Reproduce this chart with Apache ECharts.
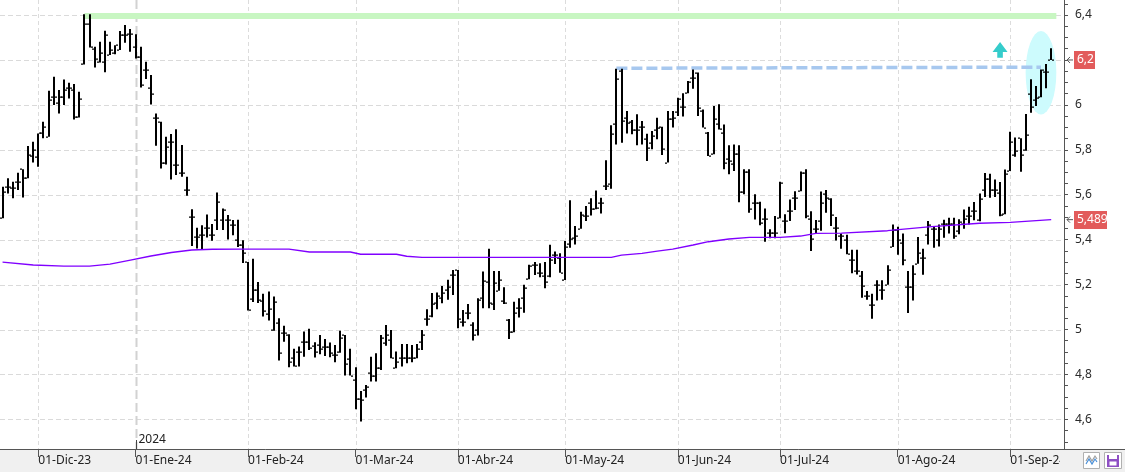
<!DOCTYPE html>
<html><head><meta charset="utf-8">
<script src="https://cdn.jsdelivr.net/npm/echarts@6/dist/echarts.min.js"></script>
<style>
html,body{margin:0;padding:0;background:#fff}
#c{width:1125px;height:472px;background:linear-gradient(#ffffff 0,#ffffff 449px,#f0f0f0 449px,#f0f0f0 472px)}
</style>
</head><body><div id="c"></div>
<script>
// ---------- DATA ----------
var startDate = '2023-11-22';
var holidays = ['2023-12-25','2023-12-26','2024-01-01','2024-03-29','2024-04-01','2024-05-01'];
var monthAbbr = ['Ene','Feb','Mar','Abr','May','Jun','Jul','Ago','Sep','Oct','Nov','Dic'];

var openP = [5.495,5.633,5.628,5.658,5.714,5.673,5.772,5.77,5.873,5.858,
6.036,6.007,6.036,6.073,6.066,5.947,6.18,6.36,6.25,6.189,
6.189,6.222,6.229,6.244,6.311,6.314,6.259,6.215,6.155,6.077,
5.94,5.925,5.74,5.836,5.732,5.698,5.621,5.5,5.41,5.42,
5.45,5.42,5.487,5.487,5.487,5.465,5.40,5.375,5.30,5.137,
5.174,5.129,5.070,4.998,5.028,4.986,4.976,4.872,4.902,4.946,
4.946,4.927,4.931,4.921,4.921,4.887,4.902,4.976,4.868,4.776,
4.689,4.731,4.805,4.793,4.827,4.942,4.954,4.827,4.872,4.872,
4.872,4.872,4.946,5.046,5.058,5.117,5.139,5.176,5.243,5.265,
5.035,5.072,5.020,4.998,5.139,5.211,5.114,5.173,5.129,5.043,
4.991,5.095,5.139,5.224,5.288,5.251,5.239,5.236,5.332,5.320,
5.220,5.379,5.409,5.449,5.505,5.565,5.535,5.565,5.639,5.649,
5.916,6.151,5.943,5.924,5.888,5.903,5.847,5.832,5.888,5.903,
5.743,5.939,5.968,5.992,6.054,6.121,6.144,5.973,5.876,5.780,
5.913,5.876,5.758,5.735,5.780,5.612,5.700,5.565,5.565,5.490,
5.428,5.431,5.498,5.483,5.527,5.587,5.616,5.698,5.490,5.446,
5.483,5.602,5.579,5.453,5.415,5.397,5.308,5.260,5.236,5.149,
5.110,5.196,5.177,5.199,5.367,5.442,5.385,5.189,5.189,5.293,
5.318,5.419,5.449,5.400,5.468,5.468,5.468,5.439,5.468,5.504,
5.526,5.489,5.620,5.668,5.620,5.608,5.513,5.706,5.776,5.851,
5.799,6.048,6.020,6.036,6.148,6.200];
var highP = [5.636,5.673,5.658,5.698,5.714,5.817,5.836,5.873,5.925,6.063,
6.125,6.066,6.113,6.099,6.093,6.059,6.404,6.404,6.259,6.281,
6.33,6.281,6.266,6.329,6.356,6.338,6.314,6.259,6.192,6.133,
5.962,5.925,5.858,5.87,5.892,5.821,5.68,5.535,5.453,5.464,
5.512,5.47,5.61,5.539,5.51,5.487,5.489,5.397,5.30,5.315,
5.211,5.159,5.169,5.147,5.050,5.017,4.979,4.914,4.924,4.991,
5.003,4.943,4.976,4.958,4.942,4.931,4.994,4.976,4.914,4.832,
4.726,4.753,4.879,4.894,4.976,5.020,4.998,4.902,4.936,4.936,
4.931,4.936,4.998,5.090,5.162,5.165,5.194,5.221,5.265,5.265,
5.087,5.114,5.032,5.139,5.258,5.359,5.261,5.261,5.188,5.047,
5.124,5.139,5.199,5.288,5.300,5.295,5.300,5.377,5.347,5.339,
5.394,5.575,5.461,5.524,5.550,5.584,5.619,5.587,5.753,5.909,
6.161,6.161,5.973,5.933,5.958,5.928,5.872,5.884,5.943,5.903,
5.973,5.973,6.032,6.052,6.106,6.158,6.144,5.980,5.879,5.995,
6.003,5.913,5.820,5.824,5.820,5.713,5.713,5.602,5.569,5.539,
5.446,5.505,5.658,5.513,5.579,5.616,5.703,5.713,5.527,5.487,
5.614,5.621,5.584,5.501,5.427,5.422,5.355,5.355,5.260,5.171,
5.159,5.219,5.219,5.286,5.468,5.457,5.427,5.260,5.286,5.412,
5.360,5.483,5.461,5.468,5.489,5.498,5.498,5.491,5.534,5.546,
5.568,5.605,5.697,5.694,5.668,5.657,5.712,5.880,5.855,5.851,
5.959,6.114,6.084,6.158,6.182,6.252];
var lowP = [5.495,5.606,5.584,5.621,5.588,5.673,5.743,5.725,5.851,5.858,
5.999,5.962,5.999,6.029,5.935,5.944,6.18,6.256,6.167,6.189,
6.145,6.222,6.226,6.244,6.277,6.237,6.207,6.077,6.115,6.002,
5.818,5.717,5.735,5.668,5.688,5.68,5.596,5.372,5.361,5.354,
5.41,5.395,5.443,5.443,5.401,5.42,5.367,5.296,5.085,5.122,
5.118,5.058,5.040,4.995,4.862,4.946,4.832,4.835,4.835,4.879,
4.909,4.875,4.890,4.882,4.876,4.854,4.897,4.795,4.795,4.645,
4.590,4.697,4.768,4.768,4.820,4.928,4.872,4.827,4.835,4.850,
4.854,4.872,4.909,5.017,5.055,5.090,5.117,5.132,5.154,5.006,
5.013,5.046,4.951,4.973,5.095,5.095,5.087,5.173,5.114,4.958,
4.988,5.053,5.075,5.224,5.243,5.233,5.184,5.233,5.292,5.253,
5.220,5.364,5.379,5.449,5.483,5.508,5.535,5.516,5.621,5.627,
5.824,5.832,5.873,5.869,5.820,5.824,5.750,5.802,5.847,5.777,
5.743,5.899,5.951,5.948,6.052,6.072,5.951,5.899,5.772,5.780,
5.891,5.713,5.691,5.706,5.567,5.602,5.520,5.490,5.464,5.391,
5.406,5.406,5.495,5.428,5.483,5.532,5.616,5.495,5.349,5.426,
5.44,5.52,5.461,5.396,5.360,5.335,5.251,5.245,5.141,5.132,
5.048,5.129,5.132,5.199,5.367,5.333,5.286,5.074,5.129,5.293,
5.244,5.379,5.364,5.370,5.409,5.427,5.404,5.424,5.449,5.468,
5.486,5.482,5.590,5.587,5.590,5.504,5.513,5.706,5.769,5.702,
5.796,5.965,5.995,6.034,6.074,6.200];
var closeP = [5.61,5.633,5.628,5.658,5.673,5.777,5.80,5.873,5.903,6.021,
6.036,6.036,6.066,6.073,5.947,6.025,6.36,6.256,6.203,6.233,
6.311,6.244,6.266,6.311,6.311,6.314,6.215,6.089,6.155,6.047,
5.94,5.74,5.814,5.836,5.732,5.698,5.621,5.5,5.41,5.42,
5.45,5.42,5.569,5.532,5.487,5.465,5.375,5.34,5.088,5.174,
5.133,5.084,5.090,5.124,4.894,4.986,4.854,4.838,4.902,4.946,
4.917,4.902,4.912,4.921,4.897,4.887,4.961,4.847,4.795,4.689,
4.686,4.746,4.793,4.827,4.961,4.976,4.872,4.854,4.872,4.872,
4.872,4.912,4.976,5.046,5.114,5.147,5.162,5.191,5.243,5.046,
5.035,5.072,4.976,5.132,5.218,5.120,5.206,5.221,5.120,4.991,
5.072,5.095,5.184,5.283,5.288,5.251,5.213,5.310,5.332,5.253,
5.369,5.404,5.416,5.510,5.505,5.535,5.539,5.565,5.639,5.872,
6.117,5.928,5.921,5.888,5.888,5.903,5.810,5.861,5.899,5.802,
5.939,5.943,6.025,5.992,6.102,6.121,5.988,5.899,5.772,5.936,
5.891,5.743,5.750,5.780,5.612,5.700,5.535,5.565,5.476,5.490,
5.428,5.431,5.651,5.483,5.527,5.587,5.698,5.505,5.404,5.446,
5.565,5.587,5.510,5.453,5.415,5.335,5.308,5.260,5.192,5.149,
5.110,5.196,5.177,5.266,5.445,5.397,5.308,5.189,5.248,5.341,
5.318,5.464,5.449,5.449,5.468,5.468,5.415,5.479,5.494,5.504,
5.526,5.583,5.668,5.620,5.620,5.509,5.694,5.836,5.796,5.776,
5.865,5.989,6.029,6.155,6.148,6.200];

// moving average read at bar indices
var maIdx = [0,6,12,17,21,25,29,33,37,41,47,56,60,68,70,77,79,82,97,109,119,121,125,128,131,135,138,142,146,152,156,159,164,173,181,191,197,205];
var maVal = [5.300,5.287,5.282,5.282,5.291,5.309,5.327,5.343,5.354,5.357,5.358,5.358,5.345,5.345,5.335,5.335,5.326,5.321,5.321,5.321,5.321,5.331,5.339,5.349,5.358,5.376,5.391,5.403,5.410,5.410,5.416,5.428,5.429,5.440,5.457,5.473,5.477,5.489];

var yLabels = [4.6,4.8,5,5.2,5.4,5.6,5.8,6,6.2,6.4];
var yTicks = [4.5,4.55,4.6,4.65,4.7,4.75,4.8,4.85,4.9,4.95,5,5.05,5.1,5.15,5.2,5.25,5.3,5.35,5.4,5.45,5.5,5.55,5.6,5.65,5.7,5.75,5.8,5.85,5.9,5.95,6,6.05,6.1,6.15,6.2,6.25,6.3,6.35,6.4,6.45];

var resistanceLine = [[16, 6.396], [206, 6.396]];
var trendLine = [[120, 6.163], [203, 6.168]];
var highlightAt = [[203, 6.143]];
var arrowAt = [[195, 6.244]];
var lastPriceLabel = 6.2;
var maLastLabel = 5.489;

// ---------- BUILD ----------
var FONT = "'Noto Sans','Open Sans',sans-serif";
var cats = [];
(function () {
  var d = new Date(startDate + 'T00:00:00Z');
  while (cats.length < openP.length) {
    var dow = d.getUTCDay();
    var s = d.toISOString().slice(0, 10);
    if (dow !== 0 && dow !== 6 && holidays.indexOf(s) < 0) cats.push(s);
    d.setUTCDate(d.getUTCDate() + 1);
  }
})();
var axisCats = cats.concat(['', '']);
var monthStart = {}, monthIdx = [], yearIdx = -1;
for (var i = 1; i < cats.length; i++) {
  if (cats[i].slice(5, 7) !== cats[i - 1].slice(5, 7)) { monthStart[i] = true; monthIdx.push(i); }
  if (cats[i].slice(0, 4) !== cats[i - 1].slice(0, 4)) yearIdx = i;
}
var ohlc = openP.map(function (o, k) { return [k, o, highP[k], lowP[k], closeP[k]]; });
var maData = maIdx.map(function (x, k) { return [x, maVal[k]]; });
var YMIN = 4.468, YMAX = 6.467;

var chart = echarts.init(document.getElementById('c'), null, { renderer: 'canvas' });
var option = {
  animation: false,
  backgroundColor: 'transparent',
  textStyle: { fontFamily: FONT },
  grid: { left: -1, right: 61, top: 0, bottom: 23, containLabel: false },
  xAxis: {
    type: 'category', data: axisCats, boundaryGap: true,
    axisLine: { show: true, lineStyle: { color: '#555', width: 1 } },
    axisTick: { show: true, alignWithLabel: true, length: 8, interval: function (idx) { return !!monthStart[idx]; }, lineStyle: { color: '#555' } },
    axisLabel: {
      show: true, interval: function (idx) { return !!monthStart[idx]; },
      formatter: function (v) { if (!v) return ''; var m = +v.slice(5, 7); return '01-' + monthAbbr[m - 1] + '-' + v.slice(2, 4); },
      align: 'left', margin: 6, fontSize: 12, color: '#222', fontFamily: FONT
    },
    splitLine: { show: false }
  },
  yAxis: {
    type: 'value', position: 'right', min: YMIN, max: YMAX,
    axisLine: { show: true, lineStyle: { color: '#555' } },
    axisTick: { show: true, customValues: yTicks, length: 4, lineStyle: { color: '#555' } },
    axisLabel: {
      customValues: yLabels, margin: 11, fontSize: 12, color: '#2a2a2a', fontFamily: FONT,
      formatter: function (v) { return String(+(+v).toFixed(2)).replace('.', ','); }
    },
    splitLine: { show: false }
  },
  series: [
    { // horizontal grid
      type: 'custom', silent: true, z: 0, clip: false,
      data: yLabels.map(function (v) { return [0, v]; }),
      renderItem: function (params, api) {
        var cs = params.coordSys;
        var y = Math.round(api.coord([0, api.value(1)])[1]) + 0.5;
        return { type: 'line', shape: { x1: cs.x, y1: y, x2: cs.x + cs.width, y2: y }, style: { stroke: '#dadada', lineWidth: 1, lineDash: [5, 3] } };
      }
    },
    { // vertical month grid
      type: 'custom', silent: true, z: 0, clip: false,
      data: monthIdx.map(function (k) { return [k, 5]; }),
      renderItem: function (params, api) {
        var cs = params.coordSys;
        var k = api.value(0);
        var x = Math.round(api.coord([k, 5])[0]) + 0.5;
        var isYear = (k === yearIdx);
        return { type: 'line', shape: { x1: x, y1: cs.y, x2: x, y2: cs.y + cs.height }, style: { stroke: isYear ? '#d2d2d2' : '#dcdcdc', lineWidth: isYear ? 2 : 1, lineDash: isYear ? [9, 4] : [4, 3] } };
      }
    },
    { // highlight ellipse
      type: 'custom', silent: true, z: 1, clip: false,
      data: highlightAt,
      renderItem: function (params, api) {
        var c = api.coord([api.value(0), api.value(1)]);
        var bw = api.size([1, 0])[0];
        var ry = Math.abs(api.coord([api.value(0), api.value(1) + 0.186])[1] - c[1]);
        var rx = bw * 3;
        return { type: 'circle', x: c[0], y: c[1], scaleX: rx / ry, scaleY: 1, shape: { cx: 0, cy: 0, r: ry }, style: { fill: '#cdfbfd' } };
      }
    },
    { // green resistance level
      type: 'line', silent: true, z: 2, symbol: 'none', data: resistanceLine,
      lineStyle: { color: '#c8f6c2', width: 6, cap: 'butt' }
    },
    { // blue dashed trend line
      type: 'line', silent: true, z: 3, symbol: 'none', data: trendLine,
      lineStyle: { color: '#a7c8ef', width: 3.5, type: [11, 4], cap: 'butt' }
    },
    { // up arrow
      type: 'custom', silent: true, z: 3, clip: false,
      data: arrowAt,
      renderItem: function (params, api) {
        var c = api.coord([api.value(0), api.value(1)]);
        var x = c[0], y = c[1];
        var pts = [[x, y - 8], [x + 7.5, y + 2], [x + 2.8, y + 2], [x + 2.8, y + 7.7], [x - 2.8, y + 7.7], [x - 2.8, y + 2], [x - 7.5, y + 2]];
        return { type: 'polygon', shape: { points: pts }, style: { fill: '#35cccb' } };
      }
    },
    { // OHLC bars
      type: 'custom', name: 'OHLC', z: 5, clip: false,
      data: ohlc, encode: { x: 0, y: [1, 2, 3, 4] },
      renderItem: function (params, api) {
        var k = api.value(0);
        var o = api.coord([k, api.value(1)]);
        var h = api.coord([k, api.value(2)]);
        var l = api.coord([k, api.value(3)]);
        var c = api.coord([k, api.value(4)]);
        var cx = Math.round(o[0]);
        return {
          type: 'group', children: [
            { type: 'rect', shape: { x: cx - 1, y: h[1], width: 2, height: Math.max(1, l[1] - h[1]) }, style: { fill: '#000' } },
            { type: 'rect', shape: { x: cx - 3, y: Math.round(o[1]) - 0.5, width: 2, height: 1.2 }, style: { fill: '#000' } },
            { type: 'rect', shape: { x: cx + 1, y: Math.round(c[1]) - 0.5, width: 2, height: 1.2 }, style: { fill: '#000' } }
          ]
        };
      }
    },
    { // moving average
      type: 'line', silent: true, z: 6, symbol: 'none', data: maData,
      lineStyle: { color: '#8000ff', width: 1.4 }
    }
  ]
};
chart.setOption(option);

// ---------- overlays positioned through the axes ----------
function yp(v) { return chart.convertToPixel({ yAxisIndex: 0 }, v); }
function xp(k) { return chart.convertToPixel({ xAxisIndex: 0 }, k); }
var g = [];
var yx = Math.round(xp(yearIdx)) + 0.5;
g.push({ type: 'line', silent: true, z: 50, shape: { x1: yx, y1: 440, x2: yx, y2: 449 }, style: { stroke: '#444', lineWidth: 1 } });
g.push({ type: 'text', silent: true, z: 50, x: yx + 2, y: 440, style: { text: cats[yearIdx].slice(0, 4), fill: '#222', font: '12px ' + FONT, verticalAlign: 'middle', align: 'left' } });
// bottom-right panel
g.push({ type: 'rect', silent: true, z: 100, shape: { x: 1060, y: 450, width: 65, height: 22 }, style: { fill: '#f0f0f0' } });
g.push({ type: 'line', silent: true, z: 101, shape: { x1: 1060, y1: 449.5, x2: 1125, y2: 449.5 }, style: { stroke: '#555', lineWidth: 1 } });
g.push({ type: 'rect', silent: true, z: 101, shape: { x: 1083.5, y: 452.5, width: 16, height: 16 }, style: { fill: '#fff', stroke: '#b0b0b0', lineWidth: 1 } });
g.push({ type: 'polyline', silent: true, z: 102, shape: { points: [[1086, 461], [1089, 456], [1092, 461], [1095, 456], [1097, 459]] }, style: { stroke: '#a0a0a0', lineWidth: 1.2, fill: null } });
g.push({ type: 'polyline', silent: true, z: 102, shape: { points: [[1086, 464], [1089, 459], [1092, 464], [1095, 459], [1097, 462]] }, style: { stroke: '#4a90d9', lineWidth: 1.2, fill: null } });
g.push({ type: 'rect', silent: true, z: 101, shape: { x: 1104.5, y: 452.5, width: 17, height: 16 }, style: { fill: '#fff', stroke: '#b0b0b0', lineWidth: 1 } });
g.push({ type: 'rect', silent: true, z: 102, shape: { x: 1107, y: 455, width: 12, height: 12 }, style: { fill: '#8e4fc4' } });
g.push({ type: 'rect', silent: true, z: 103, shape: { x: 1109, y: 455, width: 8, height: 4 }, style: { fill: '#fff' } });
g.push({ type: 'rect', silent: true, z: 103, shape: { x: 1109.5, y: 461.5, width: 7, height: 4 }, style: { fill: '#fff' } });
// price labels
function priceTag(v, txt, w) {
  var y = yp(v);
  g.push({ type: 'rect', silent: true, z: 60, shape: { x: 1074, y: Math.round(y) - 9, width: w, height: 18 }, style: { fill: '#e25b5b' } });
  g.push({ type: 'text', silent: true, z: 61, x: 1077, y: Math.round(y), style: { text: txt, fill: '#fff', font: '12px ' + FONT, verticalAlign: 'middle', align: 'left' } });
  g.push({ type: 'polyline', silent: true, z: 61, shape: { points: [[1070, y - 3], [1067, y], [1070, y + 3]] }, style: { stroke: '#555', lineWidth: 1, fill: null } });
  g.push({ type: 'line', silent: true, z: 61, shape: { x1: 1067, y1: y, x2: 1073, y2: y }, style: { stroke: '#555', lineWidth: 1 } });
}
priceTag(lastPriceLabel, String(lastPriceLabel).replace('.', ','), 21);
priceTag(maLastLabel, String(maLastLabel).replace('.', ','), 33);
chart.setOption({ graphic: { elements: g } });
</script>
</body></html>
